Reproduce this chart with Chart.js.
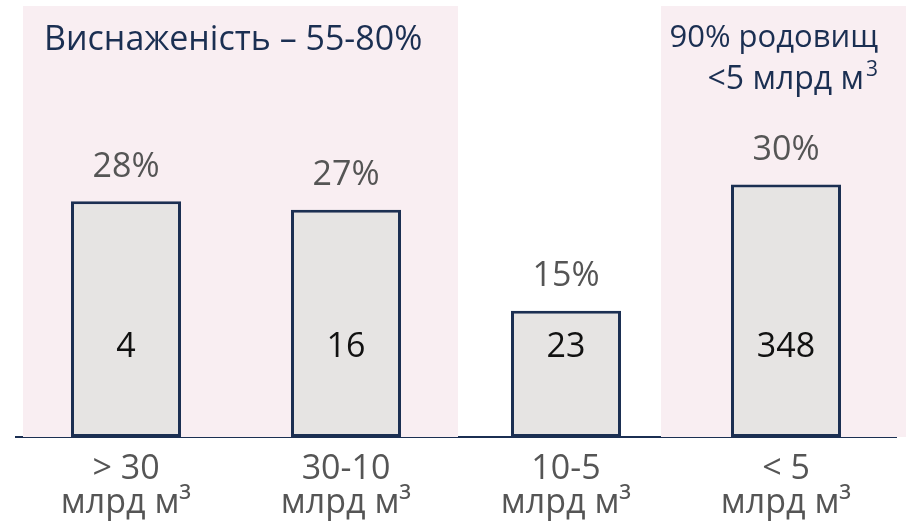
<!DOCTYPE html>
<html><head><meta charset="utf-8">
<script src="https://cdn.jsdelivr.net/npm/chart.js@4.4.0/dist/chart.umd.min.js"></script>
<style>html,body{margin:0;padding:0;background:#fff}#wrap{width:917px;height:523px}</style>
</head><body><div id="wrap"><canvas id="c" width="917" height="523"></canvas></div>
<script>
const categories = [["> 30", "млрд м³"], ["30-10", "млрд м³"], ["10-5", "млрд м³"], ["< 5", "млрд м³"]];
const sharePercent = [28, 27, 15, 30];
const fieldCounts = [4, 16, 23, 348];
const leftNote = "Виснаженість – 55-80%";
const rightNote = ["90% родовищ", "<5 млрд м", "3"];

const FONT = "'Open Sans', 'Noto Sans', sans-serif";
const NAVY = "#1b2f52";

const overlay = {
  id: 'overlay',
  beforeDatasetsDraw(chart) {
    const {ctx, chartArea, scales} = chart;
    const x = scales.x;
    ctx.save();
    ctx.fillStyle = '#f9eef2';
    const l1 = x.getPixelForValue(0) - 103, r1 = x.getPixelForValue(1) + 112;
    ctx.fillRect(l1, chartArea.top, r1 - l1, chartArea.bottom - chartArea.top);
    const l2 = x.getPixelForValue(3) - 125, r2 = x.getPixelForValue(3) + 120;
    ctx.fillRect(l2, chartArea.top, r2 - l2, chartArea.bottom - chartArea.top);
    ctx.restore();
  },
  afterDatasetsDraw(chart) {
    const {ctx, chartArea, scales} = chart;
    const meta = chart.getDatasetMeta(0);
    ctx.save();
    ctx.textAlign = 'center';
    ctx.textBaseline = 'middle';
    ctx.font = "34px " + FONT;
    meta.data.forEach((bar, i) => {
      ctx.fillStyle = '#555555';
      ctx.fillText(sharePercent[i] + '%', bar.x, bar.y - 34);
      ctx.fillStyle = '#111111';
      ctx.fillText(String(fieldCounts[i]), bar.x, chartArea.bottom - 90);
    });
    ctx.fillStyle = NAVY;
    ctx.font = "34px " + FONT;
    ctx.textAlign = 'left';
    ctx.fillText(leftNote, 44, 40);
    ctx.textAlign = 'right';
    ctx.font = "31px " + FONT;
    const rx = scales.x.getPixelForValue(3) + 92;
    ctx.fillText(rightNote[0], rx, 38);
    ctx.font = "21px " + FONT;
    ctx.fillText(rightNote[2], rx, 70);
    const supW = ctx.measureText(rightNote[2]).width;
    ctx.font = "32px " + FONT;
    ctx.fillText(rightNote[1], rx - supW - 2, 80);
    ctx.restore();
  }
};

new Chart(document.getElementById('c'), {
  type: 'bar',
  data: {
    labels: categories,
    datasets: [{
      data: sharePercent,
      backgroundColor: '#e6e4e3',
      borderColor: NAVY,
      borderWidth: 3,
      borderSkipped: false,
      barPercentage: 0.5,
      categoryPercentage: 1.0
    }]
  },
  options: {
    responsive: false,
    animation: false,
    devicePixelRatio: 1,
    layout: { padding: { left: 16, right: 21, top: 6, bottom: -12 } },
    plugins: { legend: { display: false }, tooltip: { enabled: false } },
    scales: {
      y: { display: false, min: 0, max: 51.2 },
      x: {
        grid: { display: true, drawOnChartArea: false, drawTicks: false, color: 'rgba(0,0,0,0)' },
        border: { display: true, color: NAVY, width: 2 },
        ticks: { color: '#555555', font: { family: FONT, size: 34, lineHeight: 1.0 }, padding: 15 }
      }
    }
  },
  plugins: [overlay]
});
</script>
</body></html>
